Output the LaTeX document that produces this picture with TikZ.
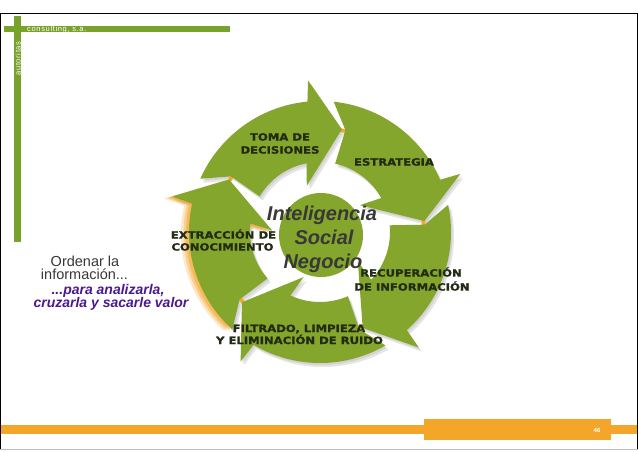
\documentclass[tikz,border=0pt]{standalone}
\usepackage{fontspec}
\setmainfont{Liberation Sans}
\newfontfamily\labfont{DejaVu Sans}[FakeStretch=1.16,FakeBold=1.2]
\newfontfamily\hdrfont{Liberation Sans}[LetterSpace=8]
\usetikzlibrary{calc}
\definecolor{grn}{HTML}{84A62C}
\definecolor{grnhdr}{HTML}{78A22B}
\definecolor{org}{HTML}{F4A62A}
\definecolor{labc}{HTML}{222B14}
\definecolor{purp}{HTML}{4A1A8C}
\definecolor{ctr}{HTML}{383838}
\newcommand\arwpath[1]{({#1-80}:131) -- ({#1-72}:105) -- ({#1-73.5}:70) arc[start angle={#1-73.5}, end angle={#1-25}, radius=70] -- ({#1-30}:48) -- ({#1-2}:105) -- ({#1-18.5}:152) -- ({#1-19.5}:131) arc[start angle={#1-19.5}, end angle={#1-80}, radius=131] -- cycle}
\tikzset{
  lab/.style={font=\labfont\bfseries\fontsize{10}{12}\selectfont, text=labc, inner sep=0pt, anchor=base},
  ctrtxt/.style={font=\bfseries\itshape\fontsize{20}{24}\selectfont, text=ctr, inner sep=0pt, anchor=base},
  hdr/.style={font=\hdrfont\fontsize{7.6}{8}\selectfont, text=white, inner sep=0pt},
  side/.style={font=\fontsize{14.5}{16}\selectfont, text=ctr, inner sep=0pt, anchor=base},
  sidep/.style={font=\bfseries\itshape\fontsize{14}{16}\selectfont, text=purp, inner sep=0pt, anchor=base}
}
\begin{document}
\begin{tikzpicture}[x=1pt,y=-1pt]
\useasboundingbox (0,0) rectangle (638,452);
\fill[white] (0,0) rectangle (638,452);
% frame
\draw[black, line width=1pt] (0.5,449) -- (0.5,13.5) -- (637.5,13.5) -- (637.5,449);
\draw[gray!50, line width=1pt] (0,449) -- (638,449);
% header
\fill[grnhdr] (4,26) rectangle (230,32);
\fill[grnhdr] (14,16) rectangle (21,242);
\node[hdr, anchor=west] (cons) at (27,29.2) {consulting, s.a.};
\node[hdr, rotate=90] (aut) at (17.8,58.5) {autoritas};
% footer
\fill[org] (1,425) rectangle (637,434);
\fill[org] (424,419) rectangle (611,440);
\node[font=\bfseries\fontsize{6}{7}\selectfont, text=white, inner sep=0pt] (num) at (597,430) {46};
% cycle
\begin{scope}[shift={(320,232)}]
  \foreach \t in {284,356,68,140,212} {
    \fill[black, opacity=.10, shift={(3,4)}] \arwpath{\t};
    \fill[black, opacity=.08, shift={(1.5,2)}] \arwpath{\t};
  }
  \fill[org, opacity=.25, shift={(-8,2)}] \arwpath{212};
  \fill[org, opacity=.35, shift={(-5.5,1.5)}] \arwpath{212};
  \fill[org, opacity=.5, shift={(-3,1)}] \arwpath{212};
  \foreach \t in {284,356,68,140,212} {
    \draw[org, line width=3.5pt] ({\t-4}:104) arc[start angle={\t-4}, end angle={\t+2}, radius=104];
  }
  \foreach \t in {284,356,68,140,212} {
    \fill[grn] \arwpath{\t};
  }
\end{scope}
\fill[grn] (321,235) coordinate (cc) circle[radius=42];
% labels
\node[lab] (toma1) at (280,140.6) {TOMA DE};
\node[lab] (toma2) at (280,153.6) {DECISIONES};
\node[lab] (estr) at (394,165.6) {ESTRATEGIA};
\node[lab] (extr1) at (223.5,238.6) {EXTRACCIÓN DE};
\node[lab] (extr2) at (222.5,250.6) {CONOCIMIENTO};
\node[lab] (recu1) at (411,276.6) {RECUPERACIÓN};
\node[lab] (recu2) at (412,290.6) {DE INFORMACIÓN};
\node[lab] (filt1) at (299,332) {FILTRADO, LIMPIEZA};
\node[lab] (filt2) at (299.5,344) {Y ELIMINACIÓN DE RUIDO};
% center text
\node[ctrtxt] (c1) at (322,220.5) {Inteligencia};
\node[ctrtxt] (c2) at (324,244.5) {Social};
\node[ctrtxt] (c3) at (323,268) {Negocio};
% side text
\node[side] (o1) at (85,266) {Ordenar la};
\node[side] (o2) at (84.5,279) {información...};
\node[sidep] (p1) at (108,294) {...para analizarla,};
\node[sidep] (p2) at (111,307) {cruzarla y sacarle valor};
\end{tikzpicture}
\end{document}
